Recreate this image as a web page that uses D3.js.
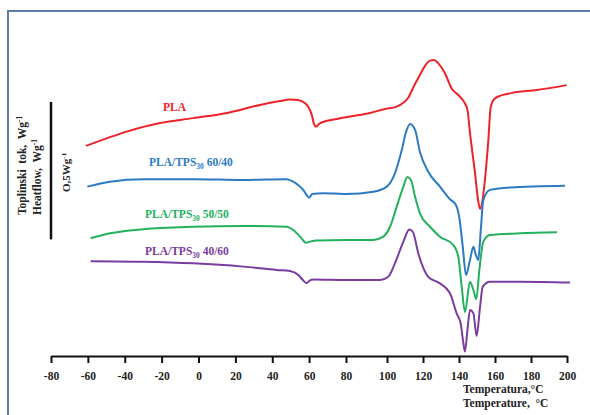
<!DOCTYPE html>
<html>
<head>
<meta charset="utf-8">
<script src="https://cdn.jsdelivr.net/npm/d3@7"></script>
<style>
body { margin: 0; background: #fff; }
svg text { font-family: "Liberation Serif", "Times New Roman", serif; font-weight: bold; }
</style>
</head>
<body>
<svg id="chart" width="590" height="415"></svg>
<script>
// DSC heating scans, heat flow in W/g (curves shifted vertically as in the original)
var xTicks = [-80, -60, -40, -20, 0, 20, 40, 60, 80, 100, 120, 140, 160, 180, 200];

var seriesNames = ["PLA", "PLA/TPS30 60/40", "PLA/TPS30 50/50", "PLA/TPS30 40/60"];
var seriesColors = ["#ee2229", "#2c7bc2", "#22b15c", "#7a3c9f"];

var plaTemp = [-61.0, -38.9, -20.9, -3.0, 15.5, 33.4, 44.2, 49.6, 54.0, 57.8, 59.9, 61.6, 62.6, 63.7, 65.4, 67.5, 75.1,
	82.0, 91.7, 99.0, 105.4, 108.9, 111.7, 115.0, 118.3, 121.1, 123.9, 126.1, 128.5, 132.2, 135.9, 139.6, 142.8,
	144.7, 146.1, 148.9, 150.6, 151.7, 153.1, 154.4, 156.3, 157.6, 160.0, 168.3, 183.2, 199.8];
var plaFlow = [0.764, 0.816, 0.847, 0.865, 0.884, 0.913, 0.927, 0.933, 0.931, 0.919, 0.902, 0.873, 0.844, 0.834, 0.844, 0.851, 0.862,
	0.871, 0.884, 0.898, 0.907, 0.920, 0.938, 0.982, 1.022, 1.055, 1.074, 1.076, 1.064, 1.028, 0.973, 0.949, 0.924,
	0.895, 0.811, 0.665, 0.567, 0.535, 0.567, 0.640, 0.785, 0.905, 0.937, 0.955, 0.967, 0.985];

var b64Temp = [-60.3, -48.0, -29.9, -3.0, 24.1, 47.8, 51.4, 54.0, 56.8, 58.8, 60.1, 61.6, 67.7, 80.3, 93.3, 99.9,
	104.4, 108.2, 110.6, 112.8, 115.6, 118.3, 122.9, 129.4, 135.0, 138.3, 140.2, 142.1, 143.9, 146.1, 148.0,
	149.4, 150.7, 152.1, 153.5, 157.2, 168.3, 198.9];
var b64Flow = [0.616, 0.634, 0.643, 0.643, 0.640, 0.643, 0.634, 0.622, 0.604, 0.584, 0.576, 0.589, 0.592, 0.589, 0.597, 0.616,
	0.664, 0.749, 0.815, 0.844, 0.822, 0.742, 0.670, 0.616, 0.570, 0.549, 0.502, 0.397, 0.295, 0.349, 0.397,
	0.367, 0.349, 0.458, 0.567, 0.604, 0.613, 0.619];

var b55Temp = [-58.5, -48.0, -29.9, -2.8, 24.3, 47.8, 51.4, 55.1, 58.3, 60.5, 64.1, 80.3, 93.3, 98.2,
	101.7, 105.4, 109.1, 111.3, 113.3, 115.6, 118.3, 123.9, 129.4, 136.8, 139.6, 141.5, 143.3, 146.1, 148.0,
	149.6, 151.3, 153.5, 157.2, 173.9, 194.4];
var b55Flow = [0.428, 0.446, 0.461, 0.470, 0.473, 0.470, 0.458, 0.434, 0.412, 0.416, 0.420, 0.422, 0.422, 0.434,
	0.470, 0.543, 0.616, 0.651, 0.640, 0.579, 0.519, 0.470, 0.434, 0.404, 0.361, 0.252, 0.160, 0.270, 0.240,
	0.207, 0.313, 0.416, 0.440, 0.446, 0.450];

var b46Temp = [-58.5, -29.9, -2.8, 24.3, 42.4, 49.6, 54.1, 56.8, 58.6, 60.5, 62.3, 80.3, 96.6, 100.7,
	104.4, 109.1, 112.4, 114.4, 117.4, 122.9, 129.4, 135.0, 138.7, 140.9, 142.2, 143.3, 144.7, 146.1, 148.0,
	149.8, 151.7, 153.2, 157.2, 173.9, 201.7];
var b46Flow = [0.345, 0.343, 0.337, 0.325, 0.313, 0.309, 0.295, 0.275, 0.265, 0.275, 0.278, 0.276, 0.276, 0.288,
	0.337, 0.416, 0.460, 0.451, 0.373, 0.288, 0.264, 0.228, 0.155, 0.119, 0.058, 0.016, 0.095, 0.167, 0.155,
	0.073, 0.179, 0.252, 0.270, 0.270, 0.267];

var scaleBar = [0.424, 0.924]; // 0.5 W/g

var temps = [plaTemp, b64Temp, b55Temp, b46Temp];
var flows = [plaFlow, b64Flow, b55Flow, b46Flow];

var svg = d3.select("#chart");

// original axis is hand drawn, ticks are not evenly spaced
var xScale = d3.scaleLinear().domain([-80, 80, 100, 200]).range([51, 346, 387, 567]);
var yScale = d3.scaleLinear().domain([0, 1.2]).range([356, 26]);

// frame
svg.append("rect")
	.attr("x", 8).attr("y", 11)
	.attr("width", 620).attr("height", 430)
	.attr("fill", "none")
	.attr("stroke", "#5a7daa")
	.attr("stroke-width", 2);

var line = d3.line().curve(d3.curveMonotoneX)
	.x(function(d) { return xScale(d[0]); })
	.y(function(d) { return yScale(d[1]); });

temps.forEach(function(t, i) {
	var pts = t.map(function(v, j) { return [v, flows[i][j]]; });
	svg.append("path")
		.attr("d", line(pts))
		.attr("fill", "none")
		.attr("stroke", seriesColors[i])
		.attr("stroke-width", 2);
});

// x axis
var xAxis = d3.axisBottom(xScale).tickValues(xTicks).tickSize(7).tickSizeOuter(0).tickPadding(9)
	.tickFormat(function(d) { return String(d); });
var gx = svg.append("g")
	.attr("transform", "translate(0,356)")
	.call(xAxis);
gx.select(".domain").attr("stroke", "#111").attr("stroke-width", 2);
gx.selectAll(".tick line").attr("stroke", "#111").attr("stroke-width", 2);
gx.selectAll(".tick text")
	.attr("fill", "#222")
	.style("font-size", "11.5px")
	.style("font-family", "'Liberation Serif', serif");

svg.append("text").attr("x", 463).attr("y", 393)
	.style("font-size", "11.5px").attr("fill", "#222")
	.text("Temperatura,°C");
svg.append("text").attr("x", 463).attr("y", 407)
	.style("font-size", "11.5px").attr("fill", "#222")
	.attr("xml:space", "preserve")
	.text("Temperature,  °C");

// y title (rotated)
function yTitle(x, y, main, size) {
	var t = svg.append("text")
		.attr("transform", "translate(" + x + "," + y + ") rotate(-90)")
		.attr("xml:space", "preserve")
		.style("font-size", size + "px")
		.attr("fill", "#222");
	t.append("tspan").text(main);
	t.append("tspan").attr("dy", -4).style("font-size", (size * 0.65) + "px").text("-1");
}
yTitle(26, 215, "Toplinski  tok,  Wg", 11.5);
yTitle(41, 215, "Heatflow,  Wg", 11.5);
yTitle(70, 192, "O,5Wg", 11);

// scale bar
svg.append("line")
	.attr("x1", 51).attr("x2", 51)
	.attr("y1", yScale(scaleBar[0])).attr("y2", yScale(scaleBar[1]))
	.attr("stroke", "#111").attr("stroke-width", 2.5);

// series labels
var labelPos = [[163, 110.5], [149, 166], [145, 217.5], [145, 255]];
seriesNames.forEach(function(name, i) {
	var t = svg.append("text")
		.attr("x", labelPos[i][0]).attr("y", labelPos[i][1])
		.attr("fill", seriesColors[i])
		.style("font-size", "11.5px");
	var m = name.match(/^(PLA\/TPS)(\d+) (.*)$/);
	if (!m) { t.text(name); return; }
	t.append("tspan").text(m[1]);
	t.append("tspan").attr("dy", 3).style("font-size", "7.5px").text(m[2]);
	t.append("tspan").attr("dy", -3).text(" " + m[3]);
});
</script>
</body>
</html>
